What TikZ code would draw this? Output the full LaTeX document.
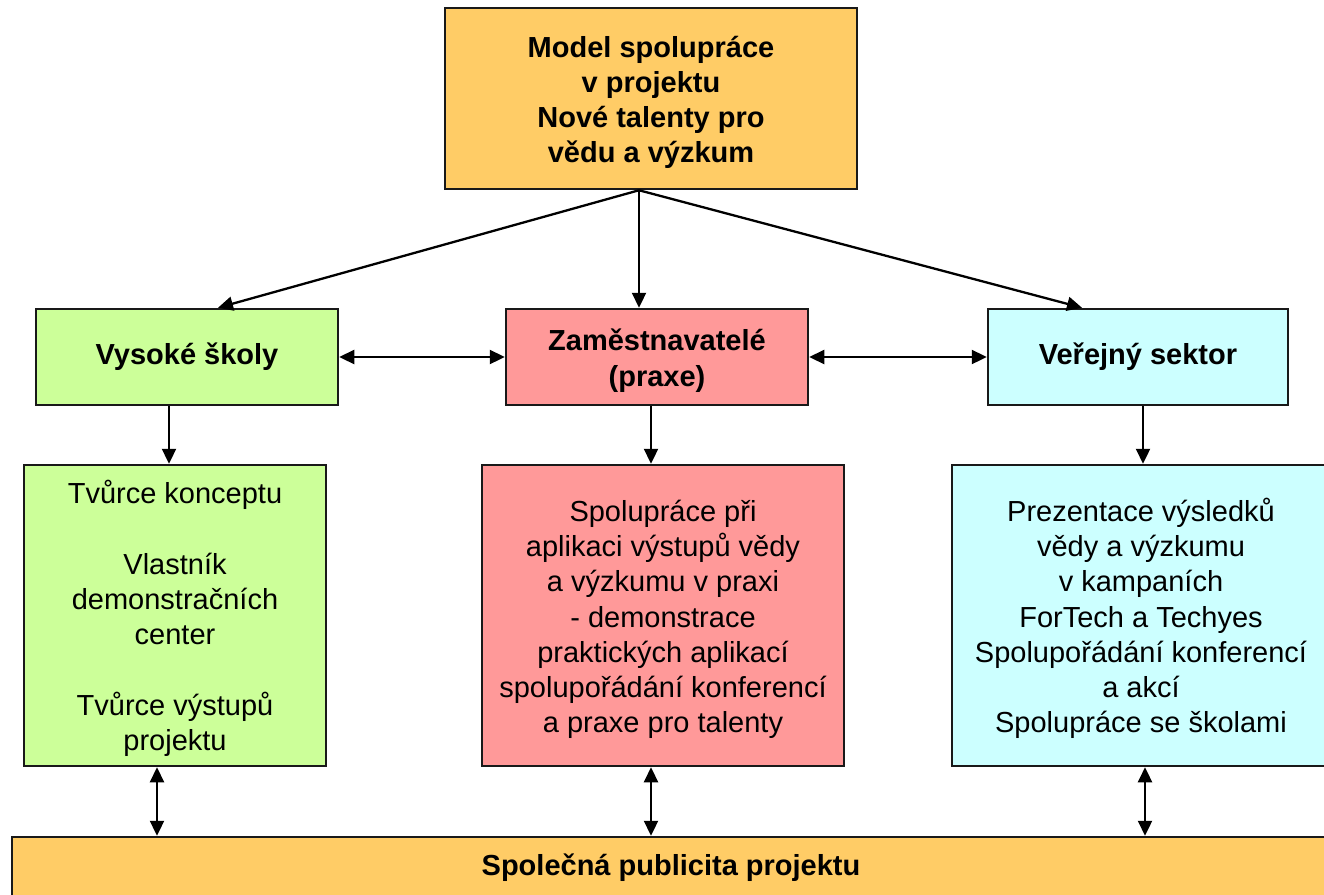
\documentclass[tikz,border=0pt]{standalone}
\usepackage{fontspec}
\setmainfont{Liberation Sans}
\usetikzlibrary{arrows.meta}
\definecolor{orangebox}{HTML}{FFCC66}
\definecolor{greenbox}{HTML}{CCFF99}
\definecolor{pinkbox}{HTML}{FF9999}
\definecolor{cyanbox}{HTML}{CCFFFF}
\tikzset{
  box/.style={draw=black!90, line width=2.5pt, rectangle, inner sep=0pt, align=center,
    font=\fontsize{29}{35.3}\selectfont},
  boldbox/.style={box, font=\fontsize{29}{35.3}\selectfont\bfseries},
  tip/.tip={Triangle[length=15pt,width=14pt]},
  arr/.style={line width=2.3pt, -tip},
  darr/.style={line width=2.3pt, tip-tip},
}
\newcommand{\firstln}{\rule{0pt}{29pt}}
\begin{document}
\begin{tikzpicture}[x=1pt,y=-1pt]
\useasboundingbox (0,0) rectangle (1324,894);
\clip (0,0) rectangle (1324,894);
\fill[white] (0,0) rectangle (1324,894);

\node[boldbox, fill=orangebox, minimum width=412pt, minimum height=181pt] (top) at (651,98.5)
  {\firstln Model spolupráce\\v projektu\\Nové talenty pro\\vědu a výzkum};

\node[boldbox, fill=greenbox, minimum width=302pt, minimum height=96pt] (vs) at (187,357) {Vysoké školy};
\node[boldbox, fill=pinkbox, minimum width=302pt, minimum height=96pt] (zam) at (657,357) {\firstln Zaměstnavatelé\\(praxe)};
\node[boldbox, fill=cyanbox, minimum width=300pt, minimum height=96pt] (ver) at (1138,357) {Veřejný sektor};

\node[box, fill=greenbox, minimum width=302pt, minimum height=301pt] (lb) at (175,615.5)
  {\firstln Tvůrce konceptu\\[35.3pt]Vlastník\\demonstračních\\center\\[35.3pt]Tvůrce výstupů\\projektu};
\node[box, fill=pinkbox, minimum width=362pt, minimum height=301pt] (mb) at (663,615.5)
  {\firstln Spolupráce při\\aplikaci výstupů vědy\\a výzkumu v praxi\\- demonstrace\\praktických aplikací\\spolupořádání konferencí\\a praxe pro talenty};
\node[box, fill=cyanbox, minimum width=378pt, minimum height=301pt] (rb) at (1141,615.5)
  {\firstln Prezentace výsledků\\vědy a výzkumu\\v kampaních\\ForTech a Techyes\\Spolupořádání konferencí\\a akcí\\Spolupráce se školami};

\node[boldbox, fill=orangebox, minimum width=1318pt, minimum height=62pt] (bot) at (671,868)
  {Společná publicita projektu};

\coordinate (o) at ([xshift=-12pt]top.south);
\draw[arr] (o) -- ([xshift=31pt]vs.north);
\draw[arr] (o) -- (o |- zam.north);
\draw[arr] (o) -- ([xshift=-56pt]ver.north);

\draw[darr] (vs.east) -- (zam.west);
\draw[darr] (zam.east) -- (ver.west);

\draw[arr] ([xshift=-18pt]vs.south) -- ([xshift=-18pt]vs.south |- lb.north);
\draw[arr] ([xshift=-6pt]zam.south) -- ([xshift=-6pt]zam.south |- mb.north);
\draw[arr] ([xshift=5pt]ver.south) -- ([xshift=5pt]ver.south |- rb.north);

\draw[darr] ([xshift=-18pt]lb.south) -- ([xshift=-18pt]lb.south |- bot.north);
\draw[darr] ([xshift=-12pt]mb.south) -- ([xshift=-12pt]mb.south |- bot.north);
\draw[darr] ([xshift=4pt]rb.south) -- ([xshift=4pt]rb.south |- bot.north);
\end{tikzpicture}
\end{document}
